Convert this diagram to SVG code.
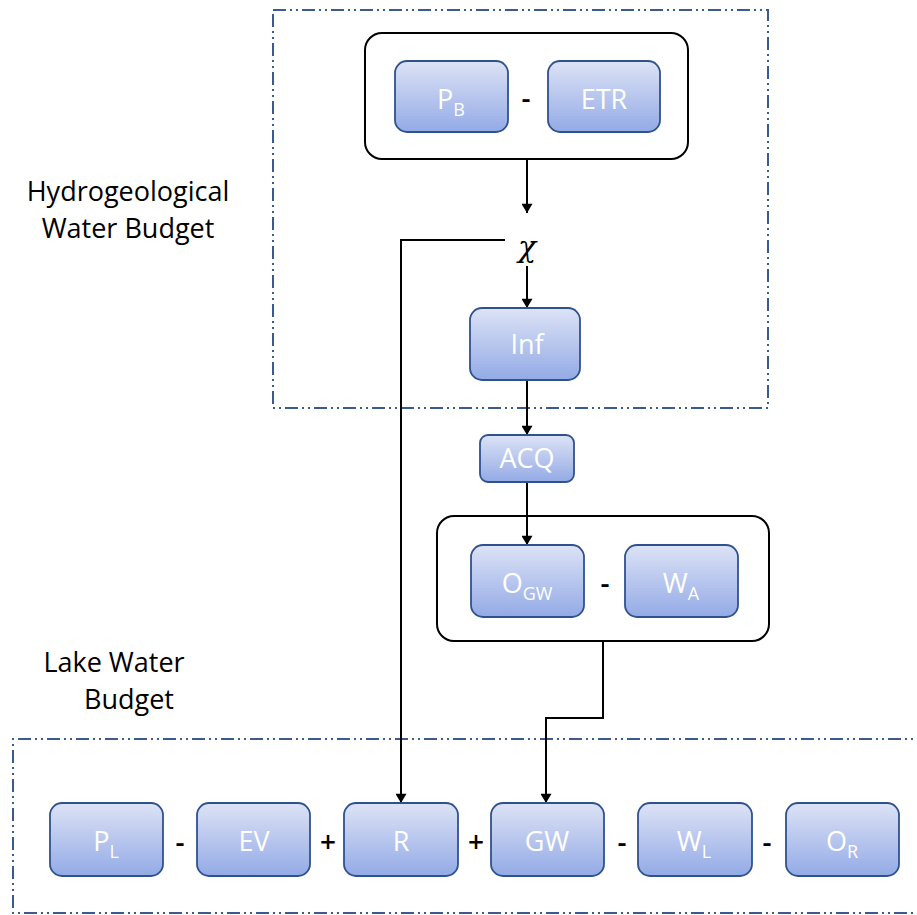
<svg xmlns="http://www.w3.org/2000/svg" width="917" height="915" viewBox="0 0 917 915">
<style>
.frame{fill:none;stroke:#3A5A94;stroke-width:2;stroke-dasharray:13 4 2 4 2 4}
.group{fill:#fff;stroke:#000;stroke-width:2}
.box{fill:url(#g);stroke:#2F528F;stroke-width:1.8}
.bt{font-family:"Open Sans","Liberation Sans",sans-serif;font-size:27px;fill:#fff;text-anchor:middle}
.sub{font-size:18px}
.op{font-family:"Open Sans","Liberation Sans",sans-serif;font-size:28px;font-weight:600;fill:#000;text-anchor:middle}
.lbl{font-family:"Open Sans","Liberation Sans",sans-serif;font-size:27px;fill:#000;text-anchor:middle}
.conn{fill:none;stroke:#000;stroke-width:2}
</style>
<defs>
<linearGradient id="g" x1="0" y1="0" x2="0" y2="1">
<stop offset="0" stop-color="#DDE3F6"/>
<stop offset="1" stop-color="#93AAE6"/>
</linearGradient>
<marker id="arr" viewBox="0 0 10 12" refX="10" refY="6" markerWidth="12" markerHeight="11" markerUnits="userSpaceOnUse" orient="auto">
<path d="M0,0 L10,6 L0,12 z" fill="#000"/>
</marker>
</defs>
<rect width="917" height="915" fill="#fff"/>
<g id="frames">
<rect class="frame" x="273" y="10" width="495" height="398"/>
<path class="frame" d="M930,739 H13 V913 H930"/>
</g>
<g id="labels">
<text class="lbl" x="128" y="201">Hydrogeological</text>
<text class="lbl" x="128" y="238">Water Budget</text>
<text class="lbl" x="114" y="672">Lake Water</text>
<text class="lbl" x="129" y="709">Budget</text>
</g>
<g id="group-top"><rect class="group" x="365" y="33" width="323" height="126" rx="17"/></g>
<g id="group-mid"><rect class="group" x="437" y="516" width="332" height="125" rx="17"/></g>
<g id="connectors">
<path class="conn" d="M527,159 V213" marker-end="url(#arr)"/>
<path class="conn" d="M505,240 H401 V803" marker-end="url(#arr)"/>
<path class="conn" d="M527,266 V308" marker-end="url(#arr)"/>
<path class="conn" d="M527,380 V435" marker-end="url(#arr)"/>
<path class="conn" d="M527,482 V545" marker-end="url(#arr)"/>
<path class="conn" d="M603,641 V718 H546 V803" marker-end="url(#arr)"/>
</g>
<g id="PB"><rect class="box" x="395" y="61" width="113" height="71" rx="12"/><text class="bt" x="451" y="109">P<tspan class="sub" dy="7">B</tspan></text></g>
<text class="op" x="526" y="108">-</text>
<g id="ETR"><rect class="box" x="548" y="61" width="112" height="71" rx="12"/><text class="bt" x="604" y="109">ETR</text></g>
<g id="chi"><text x="527" y="257" font-family="'DejaVu Serif','Liberation Serif',serif" font-style="italic" font-size="30" text-anchor="middle" fill="#000">χ</text></g>
<g id="Inf"><rect class="box" x="470" y="308" width="110" height="72" rx="12"/><text class="bt" x="527" y="354">Inf</text></g>
<g id="ACQ"><rect class="box" x="480" y="435" width="94" height="47" rx="8"/><text class="bt" x="527" y="468">ACQ</text></g>
<g id="OGW"><rect class="box" x="471" y="545" width="113" height="72" rx="12"/><text class="bt" x="527" y="593">O<tspan class="sub" dy="7">GW</tspan></text></g>
<text class="op" x="605" y="593">-</text>
<g id="WA"><rect class="box" x="625" y="545" width="113" height="72" rx="12"/><text class="bt" x="681" y="593">W<tspan class="sub" dy="7">A</tspan></text></g>
<g id="PL"><rect class="box" x="50" y="803" width="113" height="73" rx="12"/><text class="bt" x="106" y="851">P<tspan class="sub" dy="7">L</tspan></text></g>
<text class="op" x="180" y="852">-</text>
<g id="EV"><rect class="box" x="197" y="803" width="113" height="73" rx="12"/><text class="bt" x="254" y="851">EV</text></g>
<text class="op" x="328" y="852">+</text>
<g id="R"><rect class="box" x="344" y="803" width="114" height="73" rx="12"/><text class="bt" x="401" y="851">R</text></g>
<text class="op" x="476" y="852">+</text>
<g id="GW"><rect class="box" x="491" y="803" width="113" height="73" rx="12"/><text class="bt" x="547" y="851">GW</text></g>
<text class="op" x="622" y="852">-</text>
<g id="WL"><rect class="box" x="638" y="803" width="114" height="73" rx="12"/><text class="bt" x="694" y="851">W<tspan class="sub" dy="7">L</tspan></text></g>
<text class="op" x="767" y="852">-</text>
<g id="OR"><rect class="box" x="786" y="803" width="113" height="73" rx="12"/><text class="bt" x="842" y="851">O<tspan class="sub" dy="7">R</tspan></text></g>
</svg>
